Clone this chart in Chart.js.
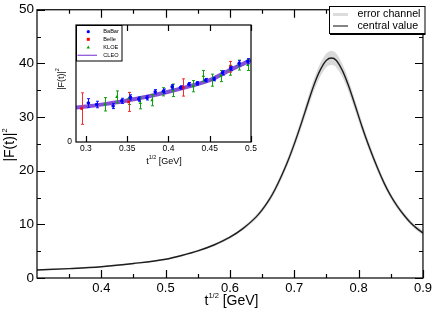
<!DOCTYPE html>
<html>
<head>
<meta charset="utf-8">
<script src="https://cdn.jsdelivr.net/npm/chart.js@4.4.0/dist/chart.umd.min.js"></script>
<style>
  html, body { margin: 0; padding: 0; background: #fff; }
  #wrap { position: relative; width: 436px; height: 315px; }
  #wrap canvas { position: absolute; left: 0; top: 0; }
</style>
</head>
<body>
<div id="wrap">
  <canvas id="mainChart" width="436" height="315"></canvas>
  <canvas id="insetChart" width="436" height="315"></canvas>
</div>
<script>
// main plot: |F(t)|^2 against t^(1/2)
const curveX = [0.30, 0.35, 0.40, 0.45, 0.50, 0.525, 0.55, 0.575, 0.60, 0.62, 0.64, 0.65, 0.66, 0.67, 0.68, 0.69, 0.70, 0.71, 0.72, 0.73, 0.74, 0.75, 0.758, 0.765, 0.775, 0.785, 0.795, 0.805, 0.815, 0.83, 0.84, 0.85, 0.86, 0.87, 0.88, 0.89, 0.90];
const curveY = [1.5, 1.75, 2.1, 2.7, 3.5, 4.2, 5.05, 6.15, 7.6, 9.2, 11.3, 12.7, 14.4, 16.5, 19.0, 21.8, 25.0, 28.5, 32.2, 35.8, 38.7, 40.6, 41.0, 40.6, 38.6, 35.6, 32.0, 28.3, 24.9, 20.3, 17.6, 15.3, 13.4, 11.8, 10.4, 9.3, 8.4];
const curveErr = [0.1, 0.1, 0.1, 0.12, 0.15, 0.17, 0.2, 0.22, 0.27, 0.32, 0.38, 0.43, 0.48, 0.55, 0.62, 0.7, 0.8, 0.92, 1.03, 1.15, 1.24, 1.3, 1.32, 1.3, 1.24, 1.14, 1.03, 0.92, 0.8, 0.66, 0.58, 0.52, 0.48, 0.45, 0.43, 0.42, 0.4];

const xTicks = [0.4, 0.5, 0.6, 0.7, 0.8, 0.9];
const xMinor = [0.35, 0.45, 0.55, 0.65, 0.75, 0.85];
const yTicks = [0, 10, 20, 30, 40, 50];
const yMinor = [5, 15, 25, 35, 45];

const mainLegend = ['error channel', 'central value'];

// inset: data points against t^(1/2)
const babarX = [0.303, 0.313, 0.333, 0.3435, 0.354, 0.364, 0.374, 0.384, 0.394, 0.4045, 0.4146, 0.4248, 0.435, 0.4451, 0.4553, 0.4655, 0.4756, 0.4857, 0.496];
const babarY = [1.81, 1.74, 1.67, 1.91, 2.07, 1.99, 2.05, 2.33, 2.36, 2.56, 2.53, 2.68, 2.72, 2.87, 2.92, 3.21, 3.41, 3.65, 3.75];
const babarErr = [0.2, 0.15, 0.12, 0.12, 0.12, 0.1, 0.1, 0.1, 0.1, 0.1, 0.08, 0.08, 0.08, 0.08, 0.08, 0.1, 0.1, 0.12, 0.12];

const belleX = [0.2948, 0.3516, 0.418, 0.475];
const belleY = [1.55, 1.86, 2.53, 3.49];
const belleErr = [0.73, 0.44, 0.40, 0.25];

const kloeX = [0.3232, 0.3374, 0.3516, 0.3659, 0.380, 0.393, 0.4056, 0.430, 0.4423, 0.4533, 0.4634, 0.4748, 0.485, 0.496];
const kloeY = [1.75, 2.09, 2.02, 1.81, 1.94, 2.33, 2.40, 2.59, 3.06, 2.87, 3.06, 3.33, 3.57, 3.57];
const kloeErr = [0.31, 0.28, 0.28, 0.27, 0.26, 0.19, 0.29, 0.26, 0.26, 0.28, 0.26, 0.23, 0.23, 0.25];

const cleoX = [0.288, 0.3, 0.325, 0.35, 0.375, 0.4, 0.425, 0.45, 0.475, 0.5];
const cleoY = [1.60, 1.65, 1.77, 1.93, 2.11, 2.33, 2.58, 2.87, 3.35, 3.8];

const insetXTicks = [0.3, 0.35, 0.4, 0.45, 0.5];
const insetYTicks = [0];
const insetLegend = ['BaBar', 'Belle', 'KLOE', 'CLEO'];

const FONT = '"Liberation Sans", Arial, Helvetica, sans-serif';
const pts = (xs, ys) => xs.map((x, i) => ({ x: x, y: ys[i] }));

// text with a raised part, e.g. t^{1/2}
function drawParts(ctx, parts, x, y, rot) {
    ctx.save();
    ctx.translate(x, y);
    if (rot) ctx.rotate(rot);
    let w = 0;
    parts.forEach(p => { ctx.font = p[1] + 'px ' + FONT; w += ctx.measureText(p[0]).width; });
    let cx = -w / 2;
    ctx.fillStyle = '#000';
    ctx.textAlign = 'left';
    ctx.textBaseline = 'alphabetic';
    parts.forEach(p => {
        ctx.font = p[1] + 'px ' + FONT;
        ctx.fillText(p[0], cx, -(p[2] || 0));
        cx += ctx.measureText(p[0]).width;
    });
    ctx.restore();
}

// frame with inward ticks on all sides
const frameTicks = {
    id: 'frameTicks',
    afterDraw(chart, args, o) {
        const ctx = chart.ctx, a = chart.chartArea;
        const xs = chart.scales.x, ys = chart.scales.y;
        ctx.save();
        ctx.strokeStyle = '#000';
        ctx.lineWidth = o.lw;
        ctx.beginPath();
        (o.xMajor || []).concat(o.xMinor || []).forEach((v, i) => {
            const len = i < (o.xMajor || []).length ? o.major : o.minor;
            const px = Math.round(xs.getPixelForValue(v)) + 0.5;
            ctx.moveTo(px, a.bottom); ctx.lineTo(px, a.bottom - len);
            ctx.moveTo(px, a.top); ctx.lineTo(px, a.top + len);
        });
        (o.yMajor || []).concat(o.yMinor || []).forEach((v, i) => {
            const len = i < (o.yMajor || []).length ? o.major : o.minor;
            const py = Math.round(ys.getPixelForValue(v)) + 0.5;
            ctx.moveTo(a.left, py); ctx.lineTo(a.left + len, py);
            ctx.moveTo(a.right, py); ctx.lineTo(a.right - len, py);
        });
        ctx.stroke();
        ctx.strokeRect(a.left, a.top, a.right - a.left, a.bottom - a.top);
        ctx.restore();
    }
};

const axisTitles = {
    id: 'axisTitles',
    afterDraw(chart, args, o) {
        const ctx = chart.ctx;
        drawParts(ctx, o.x.parts, o.x.at[0], o.x.at[1], 0);
        drawParts(ctx, o.y.parts, o.y.at[0], o.y.at[1], -Math.PI / 2);
    }
};

const mainLegendBox = {
    id: 'mainLegendBox',
    afterDraw(chart) {
        const ctx = chart.ctx;
        ctx.save();
        ctx.fillStyle = '#fff';
        ctx.fillRect(329.5, 6.5, 95.5, 27);
        ctx.strokeStyle = '#000';
        ctx.lineWidth = 1;
        ctx.strokeRect(329.5, 6.5, 95.5, 27);
        ctx.lineWidth = 1.5;
        ctx.beginPath();
        ctx.moveTo(330, 34.2); ctx.lineTo(425.5, 34.2);
        ctx.stroke();
        ctx.lineCap = 'butt';
        ctx.strokeStyle = '#dcdcdc'; ctx.lineWidth = 3;
        ctx.beginPath(); ctx.moveTo(333, 14.5); ctx.lineTo(348, 14.5); ctx.stroke();
        ctx.strokeStyle = '#333'; ctx.lineWidth = 1.2;
        ctx.beginPath(); ctx.moveTo(333, 26); ctx.lineTo(348, 26); ctx.stroke();
        ctx.fillStyle = '#000';
        ctx.font = '10.7px ' + FONT;
        ctx.textBaseline = 'middle';
        ctx.fillText(mainLegend[0], 357.5, 14.5);
        ctx.fillText(mainLegend[1], 357.5, 26);
        ctx.restore();
    }
};

new Chart(document.getElementById('mainChart'), {
    type: 'line',
    data: {
        datasets: [{
            label: 'lower',
            data: pts(curveX, curveY.map((v, i) => v - curveErr[i])),
            borderWidth: 0, pointRadius: 0, fill: false,
            cubicInterpolationMode: 'monotone', order: 3
        }, {
            label: mainLegend[0],
            data: pts(curveX, curveY.map((v, i) => v + curveErr[i])),
            borderWidth: 0, pointRadius: 0,
            fill: '-1', backgroundColor: '#d9d9d9',
            cubicInterpolationMode: 'monotone', order: 2
        }, {
            label: mainLegend[1],
            data: pts(curveX, curveY),
            borderColor: '#1e1e1e', borderWidth: 1.4, pointRadius: 0, fill: false,
            cubicInterpolationMode: 'monotone', order: 0
        }]
    },
    options: {
        responsive: false,
        animation: false,
        devicePixelRatio: 1,
        layout: { padding: { left: 0, top: 7, right: 11, bottom: 0 } },
        plugins: {
            legend: { display: false },
            tooltip: { enabled: false },
            filler: { drawTime: 'beforeDatasetsDraw' },
            frameTicks: { lw: 1.2, major: 8, minor: 4, xMajor: xTicks, xMinor: xMinor, yMajor: yTicks, yMinor: yMinor },
            axisTitles: {
                x: { parts: [['t', 14], ['1/2', 7.5, 7], [' [GeV]', 14]], at: [231.5, 305] },
                y: { parts: [['|F(t)|', 14], ['2', 7.5, 7]], at: [14, 145] }
            }
        },
        scales: {
            x: {
                type: 'linear', min: 0.3, max: 0.9,
                grid: { display: false, drawTicks: false },
                border: { display: false },
                afterBuildTicks: s => { s.ticks = xTicks.map(v => ({ value: v })); },
                afterFit: s => { s.height = 37; },
                ticks: {
                    autoSkip: false, maxRotation: 0, padding: 4,
                    color: '#000', font: { family: FONT, size: 13, lineHeight: 1 },
                    callback: v => v.toFixed(1)
                }
            },
            y: {
                min: 0, max: 50,
                grid: { display: false, drawTicks: false },
                border: { display: false },
                afterBuildTicks: s => { s.ticks = yTicks.map(v => ({ value: v })); },
                afterFit: s => { s.width = 37; },
                ticks: {
                    autoSkip: false, padding: 3,
                    color: '#000', font: { family: FONT, size: 13.5, lineHeight: 1 },
                    callback: v => String(v)
                }
            }
        }
    },
    plugins: [frameTicks, axisTitles, mainLegendBox]
});

// ---------------- inset ----------------
const insetBg = {
    id: 'insetBg',
    beforeDraw(chart) {
        const a = chart.chartArea, ctx = chart.ctx;
        ctx.save();
        ctx.fillStyle = '#fff';
        ctx.fillRect(a.left, a.top, a.right - a.left, a.bottom - a.top);
        ctx.restore();
    }
};

const errorBars = {
    id: 'errorBars',
    beforeDatasetDraw(chart, args) {
        const ds = chart.data.datasets[args.index];
        if (!ds.errors) return;
        const ctx = chart.ctx, ys = chart.scales.y;
        ctx.save();
        ctx.strokeStyle = ds.barColor;
        ctx.lineWidth = 1;
        ctx.beginPath();
        args.meta.data.forEach((el, i) => {
            const v = ds.data[i].y, e = ds.errors[i];
            const t = ys.getPixelForValue(v + e), b = ys.getPixelForValue(v - e);
            const x = Math.round(el.x) + 0.5;
            ctx.moveTo(x, t); ctx.lineTo(x, b);
            ctx.moveTo(x - 1.5, t); ctx.lineTo(x + 1.5, t);
            ctx.moveTo(x - 1.5, b); ctx.lineTo(x + 1.5, b);
        });
        ctx.stroke();
        ctx.restore();
    }
};

const insetLegendBox = {
    id: 'insetLegendBox',
    afterDraw(chart) {
        const ctx = chart.ctx;
        const ds = chart.data.datasets;
        const rows = [31.7, 39.3, 47.3, 55.3];
        ctx.save();
        ctx.fillStyle = '#fff';
        ctx.fillRect(76, 25, 46, 36);
        ctx.strokeStyle = '#000';
        ctx.lineWidth = 1;
        ctx.strokeRect(76.5, 25.5, 45.5, 35.5);
        ctx.font = '5.6px ' + FONT;
        ctx.textBaseline = 'middle';
        rows.forEach((ry, i) => {
            const d = ds[i];
            ctx.fillStyle = d.backgroundColor;
            if (d.pointStyle === 'circle') {
                ctx.beginPath(); ctx.arc(88.3, ry, 1.6, 0, Math.PI * 2); ctx.fill();
            } else if (d.pointStyle === 'rect') {
                ctx.fillRect(86.8, ry - 1.5, 3, 3);
            } else if (d.pointStyle === 'triangle') {
                ctx.beginPath(); ctx.moveTo(88.3, ry - 1.8); ctx.lineTo(90, ry + 1.3); ctx.lineTo(86.6, ry + 1.3); ctx.closePath(); ctx.fill();
            } else {
                ctx.strokeStyle = '#8a4fd8'; ctx.lineWidth = 1.2;
                ctx.beginPath(); ctx.moveTo(77.5, ry); ctx.lineTo(97, ry); ctx.stroke();
            }
            ctx.fillStyle = '#000';
            ctx.fillText(insetLegend[i], 103.3, ry);
        });
        ctx.restore();
    }
};

new Chart(document.getElementById('insetChart'), {
    type: 'line',
    data: {
        datasets: [{
            label: insetLegend[0],
            data: pts(babarX, babarY), errors: babarErr, barColor: '#1010ff',
            showLine: false, pointStyle: 'circle', pointRadius: 1.8, pointBorderWidth: 0,
            backgroundColor: '#0000ff', borderColor: '#0000ff', order: 1
        }, {
            label: insetLegend[1],
            data: pts(belleX, belleY), errors: belleErr, barColor: '#f03030',
            showLine: false, pointStyle: 'rect', pointRadius: 1.8, pointBorderWidth: 0,
            backgroundColor: '#ff0000', borderColor: '#ff0000', order: 2
        }, {
            label: insetLegend[2],
            data: pts(kloeX, kloeY), errors: kloeErr, barColor: '#10a010',
            showLine: false, pointStyle: 'triangle', pointRadius: 1.9, pointBorderWidth: 0,
            backgroundColor: '#00a000', borderColor: '#00a000', order: 3
        }, {
            label: insetLegend[3],
            data: pts(cleoX, cleoY),
            borderColor: '#8650d6', borderWidth: 4, pointRadius: 0, fill: false,
            backgroundColor: '#8650d6',
            cubicInterpolationMode: 'monotone', order: 4
        }]
    },
    options: {
        responsive: false,
        animation: false,
        devicePixelRatio: 1,
        layout: { padding: { left: 60, top: 25, right: 185, bottom: 143 } },
        plugins: {
            legend: { display: false },
            tooltip: { enabled: false },
            frameTicks: { lw: 1.2, major: 6, minor: 3, xMajor: insetXTicks, xMinor: [], yMajor: [], yMinor: [] },
            axisTitles: {
                x: { parts: [['t', 9], ['1/2', 5.5, 5], [' [GeV]', 9]], at: [164, 164] },
                y: { parts: [['|F(t)|', 9], ['2', 5.5, 5]], at: [64, 79] }
            }
        },
        scales: {
            x: {
                type: 'linear', min: 0.288, max: 0.5,
                grid: { display: false, drawTicks: false },
                border: { display: false },
                afterBuildTicks: s => { s.ticks = insetXTicks.map(v => ({ value: v })); },
                afterFit: s => { s.height = 30; },
                ticks: {
                    autoSkip: false, maxRotation: 0, padding: 2,
                    color: '#000', font: { family: FONT, size: 8.5, lineHeight: 1 },
                    callback: v => String(v)
                }
            },
            y: {
                min: 0, max: 5.43,
                grid: { display: false, drawTicks: false },
                border: { display: false },
                afterBuildTicks: s => { s.ticks = insetYTicks.map(v => ({ value: v })); },
                afterFit: s => { s.width = 16; },
                ticks: {
                    autoSkip: false, padding: 4,
                    color: '#000', font: { family: FONT, size: 8.5, lineHeight: 1 },
                    callback: v => String(v)
                }
            }
        }
    },
    plugins: [insetBg, errorBars, frameTicks, axisTitles, insetLegendBox]
});
</script>
</body>
</html>
